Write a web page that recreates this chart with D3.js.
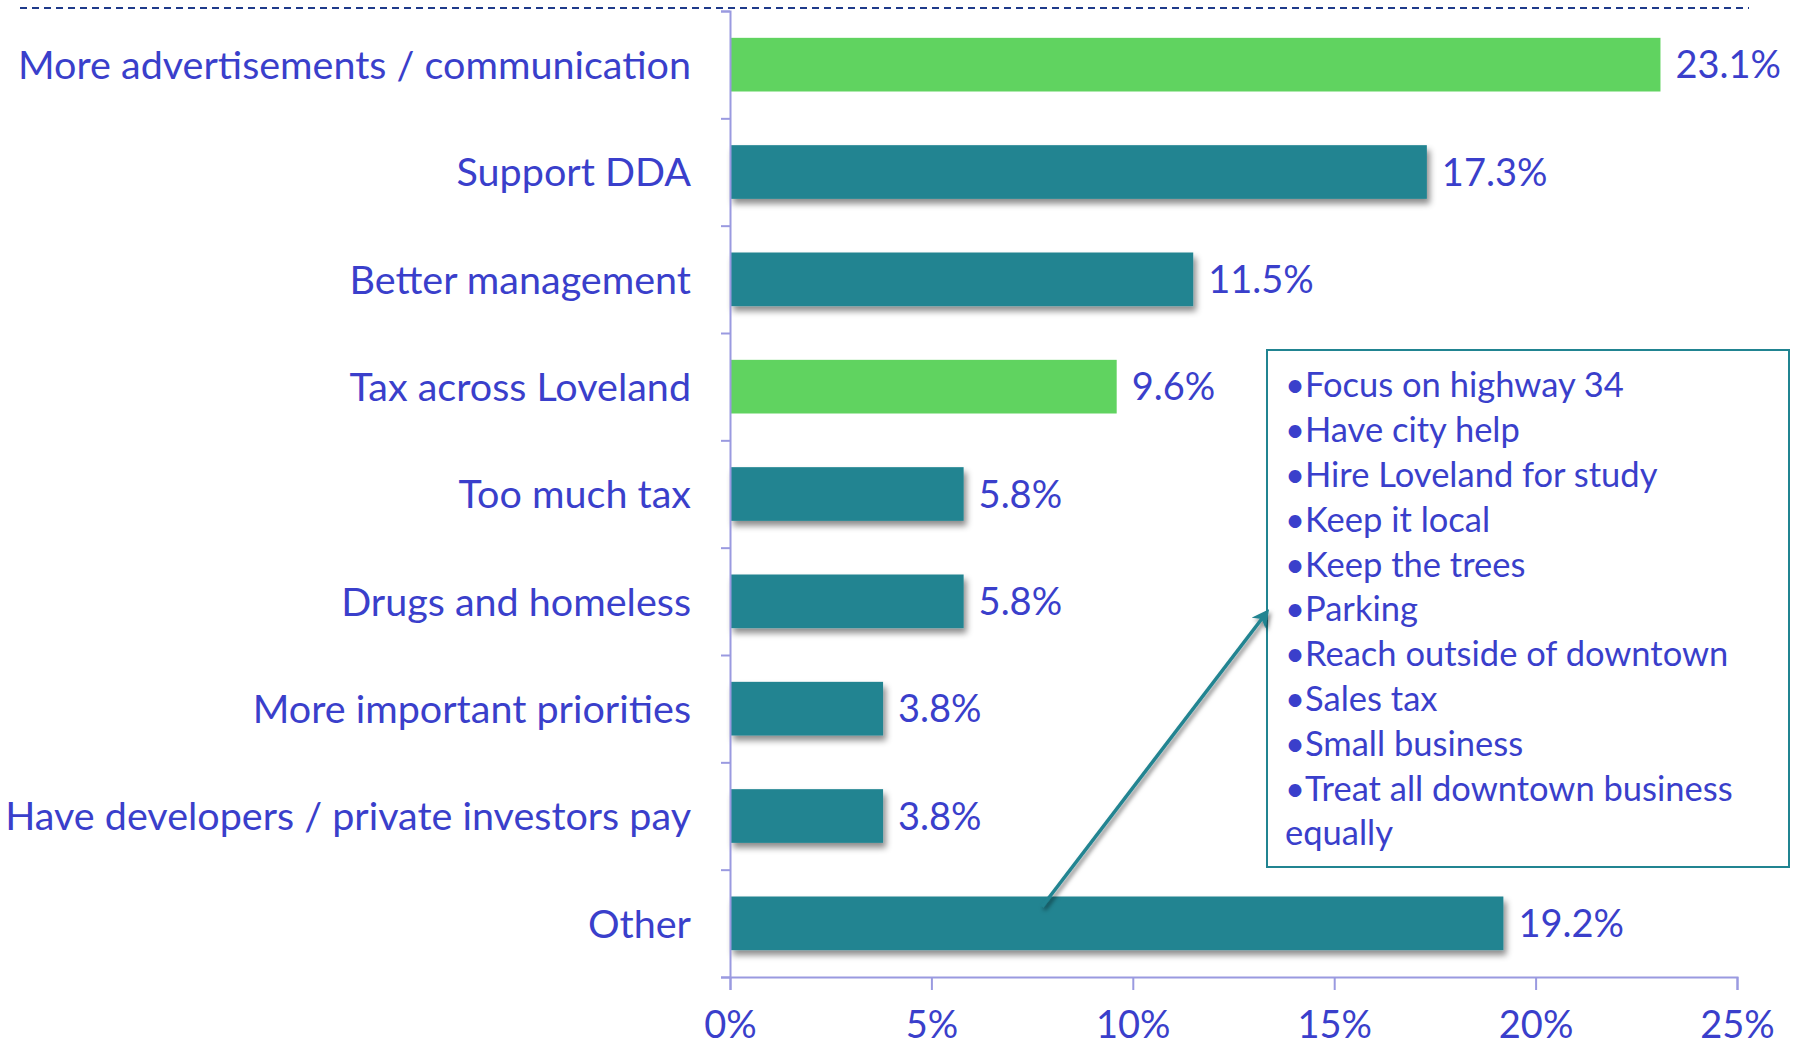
<!DOCTYPE html>
<html>
<head>
<meta charset="utf-8">
<script src="https://cdn.jsdelivr.net/npm/d3@7/dist/d3.min.js"></script>
<style>
  html, body { margin: 0; padding: 0; background: #ffffff; }
  svg text { font-family: "Lato", "Open Sans", sans-serif; }
</style>
</head>
<body>
<div id="chart"></div>
<script>
// data
var categories = [
  "More advertisements / communication",
  "Support DDA",
  "Better management",
  "Tax across Loveland",
  "Too much tax",
  "Drugs and homeless",
  "More important priorities",
  "Have developers / private investors pay",
  "Other"
];
var values = [23.1, 17.3, 11.5, 9.6, 5.8, 5.8, 3.8, 3.8, 19.2];
var highlighted = [true, false, false, true, false, false, false, false, false];
var xTicks = [0, 5, 10, 15, 20, 25];
var otherItems = [
  "\u2022Focus on highway 34",
  "\u2022Have city help",
  "\u2022Hire Loveland for study",
  "\u2022Keep it local",
  "\u2022Keep the trees",
  "\u2022Parking",
  "\u2022Reach outside of downtown",
  "\u2022Sales tax",
  "\u2022Small business",
  "\u2022Treat all downtown business",
  "equally"
];

var width = 1800, height = 1047;
var textColor = "#3a3fcb";
var axisColor = "#9a9ae0";
var teal = "#218491";
var green = "#60d360";

var margin = { top: 11, left: 730, right: 63, bottom: 70 };
var plotW = width - margin.left - margin.right;
var plotH = height - margin.top - margin.bottom;

var svg = d3.select("#chart").append("svg")
  .attr("width", width)
  .attr("height", height);

var defs = svg.append("defs");
var shadow = defs.append("filter").attr("id", "shadow")
  .attr("x", "-5%").attr("y", "-20%").attr("width", "115%").attr("height", "160%");
shadow.append("feDropShadow")
  .attr("dx", 3).attr("dy", 5).attr("stdDeviation", 3)
  .attr("flood-color", "#000").attr("flood-opacity", 0.45);

var lineShadow = defs.append("filter").attr("id", "lineShadow")
  .attr("x", "-20%").attr("y", "-20%").attr("width", "140%").attr("height", "140%");
lineShadow.append("feDropShadow")
  .attr("dx", 2).attr("dy", 3).attr("stdDeviation", 2)
  .attr("flood-color", "#000").attr("flood-opacity", 0.5);

var marker = defs.append("marker").attr("id", "arrow")
  .attr("viewBox", "0 0 10 10").attr("refX", 8).attr("refY", 5)
  .attr("markerWidth", 5).attr("markerHeight", 5)
  .attr("orient", "auto");
marker.append("path").attr("d", "M0,0 L10,5 L0,10 L3,5 Z").attr("fill", teal);

// dashed rule at the top
svg.append("line")
  .attr("x1", 20).attr("x2", 1749)
  .attr("y1", 8).attr("y2", 8)
  .attr("stroke", "#1f3a8a")
  .attr("stroke-width", 2)
  .attr("stroke-dasharray", "7,5");

var g = svg.append("g").attr("transform", "translate(" + margin.left + "," + margin.top + ")");

var x = d3.scaleLinear().domain([0, 25]).range([0, plotW]);
var y = d3.scaleBand().domain(categories).range([0, plotH]).paddingInner(0.5).paddingOuter(0.25);
var yIdx = d3.scaleLinear().domain([0, categories.length]).range([0, plotH]);

// bars
g.selectAll("rect.bar").data(categories).enter().append("rect")
  .attr("class", "bar")
  .attr("x", 0)
  .attr("y", function (d) { return y(d); })
  .attr("width", function (d, i) { return x(values[i]); })
  .attr("height", y.bandwidth())
  .attr("fill", function (d, i) { return highlighted[i] ? green : teal; })
  .attr("filter", function (d, i) { return highlighted[i] ? null : "url(#shadow)"; });

// value labels
g.selectAll("text.val").data(categories).enter().append("text")
  .attr("class", "val")
  .attr("x", function (d, i) { return x(values[i]) + 15; })
  .attr("y", function (d) { return y(d) + y.bandwidth() / 2; })
  .attr("dy", "0.36em")
  .attr("fill", textColor)
  .attr("font-size", 38)
  .text(function (d, i) { return values[i].toFixed(1) + "%"; });

// category labels
g.selectAll("text.cat").data(categories).enter().append("text")
  .attr("class", "cat")
  .attr("x", -39)
  .attr("y", function (d) { return y(d) + y.bandwidth() / 2; })
  .attr("dy", "0.36em")
  .attr("text-anchor", "end")
  .attr("fill", textColor)
  .attr("font-size", 39.5)
  .text(function (d) { return d; });

// y axis with ticks at band edges
var yAxis = g.append("g")
  .call(d3.axisLeft(yIdx).tickValues(d3.range(0, categories.length + 1)).tickSize(9).tickFormat(""));
yAxis.select(".domain").attr("stroke", axisColor).attr("stroke-width", 2);
yAxis.selectAll(".tick line").attr("stroke", axisColor).attr("stroke-width", 2);

// x axis
var xAxis = g.append("g")
  .attr("transform", "translate(0," + plotH + ")")
  .call(d3.axisBottom(x).tickValues(xTicks).tickSize(13).tickPadding(21).tickFormat(function (d) { return d + "%"; }));
xAxis.select(".domain").attr("stroke", axisColor).attr("stroke-width", 2);
xAxis.selectAll(".tick line").attr("stroke", axisColor).attr("stroke-width", 2);
xAxis.selectAll(".tick text").attr("fill", textColor).attr("font-size", 38)
  .attr("font-family", "Lato, sans-serif");

// callout box for "Other"
var box = { x: 1267, y: 350, w: 522, h: 517 };
svg.append("rect")
  .attr("x", box.x).attr("y", box.y)
  .attr("width", box.w).attr("height", box.h)
  .attr("fill", "#fff")
  .attr("stroke", teal).attr("stroke-width", 2);

svg.append("g").selectAll("text").data(otherItems).enter().append("text")
  .attr("x", box.x + 18)
  .attr("y", function (d, i) { return box.y + 35 + i * 44.8; })
  .attr("dy", "0.36em")
  .attr("fill", textColor)
  .attr("font-size", 34.5)
  .text(function (d) { return d; });

// arrow from the Other bar to the box
var otherY = y("Other") + margin.top;
svg.append("line")
  .attr("x1", margin.left + x(7.75)).attr("y1", otherY + 10)
  .attr("x2", box.x).attr("y2", 612)
  .attr("stroke", teal).attr("stroke-width", 3.5)
  .attr("filter", "url(#lineShadow)")
  .attr("marker-end", "url(#arrow)");
</script>
</body>
</html>
